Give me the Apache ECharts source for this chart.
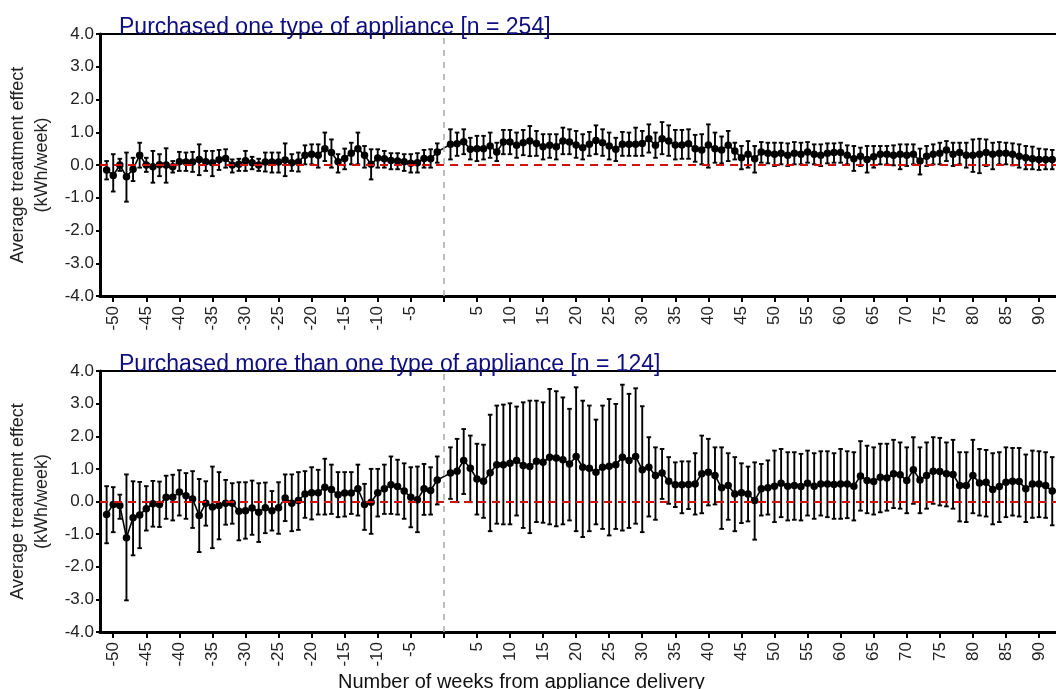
<!DOCTYPE html>
<html>
<head>
<meta charset="utf-8">
<script src="https://cdn.jsdelivr.net/npm/echarts@6/dist/echarts.min.js"></script>
<style>
html,body{margin:0;padding:0;background:#fff;}
#chart{width:1056px;height:689px;}
</style>
</head>
<body>
<div id="chart"></div>
<script>
// ---- Data ----
var weeks = [-51,-50,-49,-48,-47,-46,-45,-44,-43,-42,-41,-40,-39,-38,-37,-36,-35,-34,-33,-32,-31,-30,-29,-28,-27,-26,-25,-24,-23,-22,-21,-20,-19,-18,-17,-16,-15,-14,-13,-12,-11,-10,-9,-8,-7,-6,-5,-4,-3,-2,-1,
  1,2,3,4,5,6,7,8,9,10,11,12,13,14,15,16,17,18,19,20,21,22,23,24,25,26,27,28,29,30,31,32,33,34,35,36,37,38,39,40,41,42,43,44,45,46,47,48,49,50,51,52,53,54,55,56,57,58,59,60,61,62,63,64,65,66,67,68,69,70,71,72,73,74,75,76,77,78,79,80,81,82,83,84,85,86,87,88,89,90,91,92];

var xTickValues = [-50,-45,-40,-35,-30,-25,-20,-15,-10,-5,0,5,10,15,20,25,30,35,40,45,50,55,60,65,70,75,80,85,90];
var xLabelValues = [-50,-45,-40,-35,-30,-25,-20,-15,-10,-5,5,10,15,20,25,30,35,40,45,50,55,60,65,70,75,80,85,90];

var titleOne = 'Purchased one type of appliance [n = 254]';
var titleMore = 'Purchased more than one type of appliance [n = 124]';
var yAxisName = 'Average treatment effect\n(kWh/week)';
var xAxisName = 'Number of weeks from appliance delivery';

// Panel 1: one type of appliance
var oneMean = [-0.15,-0.32,0.00,-0.36,-0.13,0.30,0.00,-0.05,0.01,0.00,-0.05,0.10,0.09,0.09,0.17,0.10,0.07,0.16,0.20,0.00,0.02,0.13,0.07,0.00,0.09,0.09,0.09,0.15,0.07,0.09,0.30,0.33,0.30,0.50,0.38,0.10,0.20,0.36,0.50,0.30,0.02,0.21,0.19,0.14,0.12,0.10,0.05,0.07,0.20,0.19,0.40,
  0.63,0.65,0.71,0.48,0.50,0.50,0.58,0.40,0.70,0.70,0.60,0.68,0.73,0.66,0.56,0.60,0.56,0.73,0.70,0.61,0.53,0.63,0.75,0.68,0.58,0.48,0.63,0.63,0.63,0.66,0.80,0.60,0.80,0.73,0.61,0.61,0.65,0.50,0.46,0.61,0.50,0.46,0.60,0.43,0.22,0.33,0.19,0.40,0.36,0.33,0.36,0.30,0.36,0.33,0.40,0.33,0.30,0.36,0.38,0.38,0.30,0.19,0.27,0.17,0.25,0.33,0.33,0.30,0.33,0.30,0.33,0.12,0.27,0.33,0.36,0.46,0.33,0.38,0.30,0.30,0.33,0.38,0.33,0.36,0.36,0.33,0.27,0.22,0.19,0.17,0.17,0.17];
var oneUpper = [0.12,0.33,0.19,0.38,0.22,0.68,0.22,0.43,0.33,0.51,0.12,0.40,0.38,0.40,0.63,0.43,0.43,0.46,0.48,0.17,0.19,0.43,0.25,0.19,0.38,0.38,0.38,0.66,0.33,0.38,0.60,0.63,0.63,0.99,0.78,0.33,0.50,0.68,0.99,0.58,0.48,0.48,0.43,0.36,0.36,0.33,0.33,0.36,0.46,0.48,0.66,
  1.09,0.99,1.09,0.83,0.89,0.89,0.99,0.68,1.07,1.07,0.99,1.07,1.19,1.04,0.94,0.94,0.94,1.14,1.09,1.04,0.94,1.01,1.21,1.09,0.99,0.83,1.01,0.99,1.14,1.04,1.24,0.99,1.31,1.21,1.07,1.07,1.09,0.92,0.94,1.24,0.99,0.87,1.04,0.68,0.58,0.73,0.58,0.70,0.68,0.68,0.68,0.66,0.70,0.68,0.70,0.63,0.63,0.66,0.66,0.68,0.60,0.58,0.53,0.58,0.58,0.58,0.58,0.60,0.63,0.63,0.63,0.50,0.58,0.63,0.68,0.73,0.68,0.68,0.68,0.78,0.80,0.78,0.68,0.70,0.68,0.66,0.63,0.58,0.56,0.50,0.48,0.46];
var oneLower = [-0.44,-0.81,-0.18,-1.12,-0.49,-0.08,-0.21,-0.54,-0.34,-0.54,-0.23,-0.18,-0.18,-0.21,-0.31,-0.18,-0.34,-0.15,-0.08,-0.23,-0.18,-0.18,-0.13,-0.18,-0.20,-0.23,-0.23,-0.34,-0.18,-0.20,0.02,0.02,-0.08,0.12,-0.08,-0.23,-0.13,0.02,0.02,-0.08,-0.44,-0.08,-0.08,-0.13,-0.13,-0.18,-0.23,-0.23,-0.08,-0.08,0.07,
  0.17,0.28,0.33,0.17,0.12,0.17,0.22,0.12,0.33,0.33,0.22,0.30,0.27,0.28,0.17,0.22,0.17,0.33,0.33,0.22,0.17,0.28,0.33,0.28,0.17,0.12,0.28,0.28,0.28,0.28,0.38,0.22,0.33,0.28,0.17,0.19,0.19,0.10,0.02,-0.08,0.07,0.05,0.12,0.17,-0.13,-0.08,-0.23,0.07,0.05,-0.03,0.02,-0.03,0.02,0.02,0.07,0.02,-0.03,0.05,0.07,0.07,0.02,-0.18,-0.03,-0.23,-0.08,0.02,0.02,-0.01,-0.13,-0.03,0.02,-0.29,-0.03,0.02,0.02,0.12,-0.03,0.02,-0.08,-0.21,-0.25,-0.03,-0.13,0.02,0.02,-0.01,-0.08,-0.13,-0.13,-0.15,-0.13,-0.13];

// Panel 2: more than one type of appliance
var moreMean = [-0.40,-0.09,-0.12,-1.11,-0.50,-0.41,-0.22,-0.07,-0.09,0.13,0.13,0.29,0.18,0.08,-0.43,-0.05,-0.17,-0.12,-0.05,-0.05,-0.30,-0.28,-0.20,-0.33,-0.19,-0.28,-0.19,0.11,-0.05,0.03,0.23,0.27,0.27,0.44,0.37,0.21,0.26,0.26,0.39,-0.09,-0.02,0.27,0.39,0.51,0.46,0.32,0.13,0.05,0.39,0.34,0.66,
  0.87,0.93,1.26,1.02,0.69,0.62,0.88,1.13,1.13,1.17,1.26,1.10,1.07,1.23,1.20,1.36,1.33,1.28,1.15,1.38,1.05,1.02,0.90,1.05,1.08,1.13,1.36,1.26,1.38,0.97,1.05,0.80,0.87,0.62,0.51,0.51,0.52,0.54,0.85,0.90,0.80,0.42,0.49,0.23,0.27,0.23,0.03,0.39,0.42,0.47,0.56,0.47,0.49,0.46,0.56,0.47,0.54,0.54,0.52,0.54,0.54,0.47,0.78,0.64,0.61,0.74,0.72,0.85,0.82,0.64,0.97,0.66,0.80,0.93,0.92,0.85,0.83,0.49,0.49,0.80,0.57,0.59,0.37,0.46,0.59,0.62,0.61,0.39,0.54,0.54,0.49,0.32];
var moreUpper = [0.47,0.44,0.21,0.83,0.62,0.60,0.47,0.63,0.61,0.79,0.82,0.96,0.87,0.93,0.69,0.62,1.07,0.90,0.66,0.56,0.59,0.59,0.64,0.56,0.58,0.32,0.59,0.83,0.83,0.90,0.93,1.05,0.97,1.31,1.13,0.90,0.90,0.90,1.13,0.54,1.00,1.00,1.13,1.38,1.28,1.17,1.05,1.07,1.15,1.05,1.38,
  1.66,1.92,2.22,2.02,1.77,1.74,2.66,2.94,2.97,3.01,2.91,3.04,3.09,3.09,3.04,3.45,3.38,3.19,2.84,3.50,3.09,2.94,2.51,2.94,3.14,2.99,3.58,3.30,3.47,2.92,1.97,1.66,1.61,1.36,1.20,1.23,1.23,1.48,2.02,1.92,1.66,1.66,1.48,1.36,1.17,1.07,1.20,1.15,1.26,1.56,1.61,1.51,1.51,1.46,1.56,1.48,1.54,1.54,1.48,1.61,1.54,1.51,1.85,1.71,1.66,1.77,1.77,1.89,1.81,1.66,1.97,1.66,1.81,1.97,1.95,1.81,1.89,1.51,1.51,1.89,1.61,1.58,1.48,1.51,1.66,1.64,1.64,1.44,1.56,1.54,1.51,1.36];
var moreLower = [-1.28,-0.94,-0.53,-3.03,-1.65,-1.43,-0.89,-0.77,-0.78,-0.53,-0.58,-0.43,-0.53,-0.81,-1.55,-0.74,-1.43,-1.16,-0.71,-0.68,-1.19,-1.14,-1.02,-1.24,-0.97,-0.89,-0.99,-0.60,-0.91,-0.87,-0.50,-0.55,-0.40,-0.40,-0.38,-0.48,-0.46,-0.38,-0.43,-0.87,-0.99,-0.46,-0.38,-0.38,-0.40,-0.53,-0.79,-0.94,-0.41,-0.40,-0.09,
  0.08,-0.02,0.23,-0.02,-0.40,-0.50,-0.91,-0.68,-0.70,-0.70,-0.43,-0.81,-0.97,-0.63,-0.65,-0.70,-0.76,-0.70,-0.58,-0.91,-1.09,-0.91,-0.70,-0.84,-1.04,-0.84,-0.89,-0.81,-0.68,-0.94,-0.46,-0.56,0.08,-0.07,-0.17,-0.36,-0.23,-0.40,-0.36,-0.12,-0.09,-0.84,-0.56,-0.91,-0.66,-0.61,-1.17,-0.43,-0.40,-0.63,-0.48,-0.58,-0.56,-0.58,-0.43,-0.53,-0.43,-0.48,-0.53,-0.53,-0.51,-0.58,-0.28,-0.36,-0.40,-0.33,-0.28,-0.20,-0.22,-0.36,-0.07,-0.36,-0.22,-0.07,-0.12,-0.15,-0.22,-0.61,-0.63,-0.36,-0.43,-0.46,-0.70,-0.63,-0.48,-0.43,-0.46,-0.63,-0.50,-0.48,-0.50,-0.73];

// ---- Build ----
var FONT = 'Liberation Sans, Arial, Helvetica, sans-serif';
var chart = echarts.init(document.getElementById('chart'), null, {renderer: 'canvas'});

function pairs(xs, ys) { return xs.map(function (x, i) { return [x, ys[i]]; }); }
function triples(xs, lo, hi) { return xs.map(function (x, i) { return [x, lo[i], hi[i]]; }); }

function renderErr(params, api) {
  var x = api.value(0), lo = api.value(1), hi = api.value(2);
  var p1 = api.coord([x, hi]), p2 = api.coord([x, lo]);
  var cap = 2.3;
  var st = {stroke: '#000', lineWidth: 1.9, fill: null};
  return {type: 'group', children: [
    {type: 'line', shape: {x1: p1[0], y1: p1[1], x2: p2[0], y2: p2[1]}, style: st},
    {type: 'line', shape: {x1: p1[0] - cap, y1: p1[1], x2: p1[0] + cap, y2: p1[1]}, style: st},
    {type: 'line', shape: {x1: p2[0] - cap, y1: p2[1], x2: p2[0] + cap, y2: p2[1]}, style: st}
  ]};
}

var grids = [
  {left: 100, right: 0, top: 34, height: 262, containLabel: false, outerBoundsMode: 'none'},
  {left: 100, right: 0, top: 371, height: 261, containLabel: false, outerBoundsMode: 'none'}
];

var xAxes = [], yAxes = [], series = [];
var panels = [
  {mean: oneMean, lo: oneLower, hi: oneUpper},
  {mean: moreMean, lo: moreLower, hi: moreUpper}
];

panels.forEach(function (p, g) {
  xAxes.push({
    type: 'value', gridIndex: g, min: -52, max: 92.57, position: 'bottom',
    axisLine: {onZero: false, lineStyle: {color: '#000', width: 3}},
    axisTick: {show: true, customValues: xTickValues, length: 6, lineStyle: {color: '#000', width: 2}},
    axisLabel: {customValues: xLabelValues, rotate: 90, margin: 10, color: '#222', fontSize: 17, fontFamily: FONT},
    splitLine: {show: false}
  });
  xAxes.push({
    type: 'value', gridIndex: g, min: -52, max: 92.57, position: 'top',
    axisLine: {onZero: false, lineStyle: {color: '#000', width: 2}},
    axisTick: {show: false}, axisLabel: {show: false}, splitLine: {show: false}
  });
  yAxes.push({
    type: 'value', gridIndex: g, min: -4, max: 4, interval: 1,
    axisLine: {show: true, onZero: false, lineStyle: {color: '#000', width: 3}},
    axisTick: {show: true, length: 4, lineStyle: {color: '#000', width: 2}},
    axisLabel: {margin: 6, color: '#222', fontSize: 17, fontFamily: FONT,
      formatter: function (v) { return v.toFixed(1); }},
    splitLine: {show: false},
    name: yAxisName, nameLocation: 'middle', nameGap: 44,
    nameTextStyle: {color: '#222', fontSize: 18, fontFamily: FONT, lineHeight: 24}
  });
  // reference lines
  series.push({
    type: 'line', xAxisIndex: g * 2, yAxisIndex: g, data: [], silent: true, z: 1,
    markLine: {
      silent: true, symbol: 'none', animation: false, label: {show: false},
      data: [
        {yAxis: 0, lineStyle: {color: '#d41010', type: [8, 6], width: 2}},
        {xAxis: 0, lineStyle: {color: '#aaaaaa', type: [6, 6], width: 1.5}}
      ]
    }
  });
  series.push({
    type: 'custom', xAxisIndex: g * 2, yAxisIndex: g, z: 3,
    renderItem: renderErr, encode: {x: 0, y: [1, 2]},
    data: triples(weeks, p.lo, p.hi), silent: true
  });
  series.push({
    type: 'line', xAxisIndex: g * 2, yAxisIndex: g, z: 4,
    data: pairs(weeks, p.mean), symbol: 'circle', symbolSize: 7.5, showSymbol: true,
    itemStyle: {color: '#000'}, lineStyle: {color: '#000', width: 1.6}, silent: true
  });
});

chart.setOption({
  animation: false,
  backgroundColor: '#fff',
  grid: grids,
  xAxis: xAxes,
  yAxis: yAxes,
  title: [
    {text: titleOne, left: 114, top: 11, textStyle: {color: '#0f0f80', fontSize: 23, fontWeight: 'normal', fontFamily: FONT}},
    {text: titleMore, left: 114, top: 348, textStyle: {color: '#0f0f80', fontSize: 23, fontWeight: 'normal', fontFamily: FONT}},
    {text: xAxisName, left: 333, top: 667, textStyle: {color: '#111', fontSize: 20, fontWeight: 'normal', fontFamily: FONT}}
  ],
  series: series
});
</script>
</body>
</html>
